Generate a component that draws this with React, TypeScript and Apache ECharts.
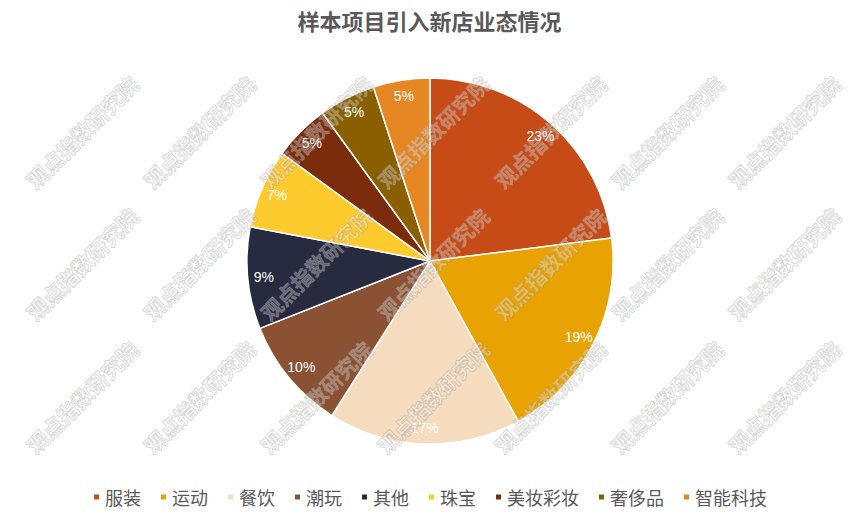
import React, { useEffect, useRef } from "react";
import * as echarts from "echarts";

const titleText = "样本项目引入新店业态情况";
const categories = ["服装", "运动", "餐饮", "潮玩", "其他", "珠宝", "美妆彩妆", "奢侈品", "智能科技"];
const values = [23, 19, 17, 10, 9, 7, 5, 5, 5];
const colors = ["#C74B16", "#E8A202", "#F6DCBF", "#8A5232", "#282A3F", "#FECB2F", "#7A2C0D", "#8A5F00", "#E58824"];
const watermarkText = "观点指数研究院";
const watermarkCols = [82, 199, 316, 433, 550, 667, 784];
const watermarkRows = [132, 264, 397];

export default function App() {
  const ref = useRef<HTMLDivElement>(null);
  useEffect(() => {
    if (!ref.current) return;
    const chart = echarts.init(ref.current, undefined, { renderer: "svg" });
    const data = categories.map((name, i) => ({ name, value: values[i], itemStyle: { color: colors[i] } }));
    const labelData = categories.map((name, i) => ({ name, value: values[i] }));
    const graphics: any[] = [];
    watermarkRows.forEach((y) => {
      watermarkCols.forEach((x) => {
        graphics.push({
          type: "text",
          x,
          y,
          rotation: Math.PI / 4,
          z: 100,
          silent: true,
          style: {
            text: watermarkText,
            fill: "rgba(255,255,255,0.3)",
            stroke: "rgba(140,140,140,0.4)",
            lineWidth: 1,
            font: "bold 21px 'Noto Sans CJK SC'",
            textAlign: "center",
            textVerticalAlign: "middle",
            align: "center",
            verticalAlign: "middle",
          },
        });
      });
    });
    chart.setOption({
      animation: false,
      backgroundColor: "#ffffff",
      title: {
        text: titleText,
        left: "center",
        top: 4,
        textStyle: {
          fontFamily: "'Noto Sans CJK SC'",
          fontSize: 22,
          fontWeight: "bold",
          color: "#595959",
        },
      },
      legend: {
        data: categories,
        bottom: 5,
        left: "center",
        icon: "rect",
        itemWidth: 7,
        itemHeight: 7,
        itemGap: 18,
        textStyle: {
          fontFamily: "'Noto Sans CJK SC'",
          fontSize: 18,
          color: "#595959",
        },
      },
      series: [
        {
          type: "pie",
          center: [430, 261],
          radius: [0, 183],
          startAngle: 90,
          clockwise: true,
          data,
          label: { show: false },
          labelLine: { show: false },
          itemStyle: { borderColor: "#ffffff", borderWidth: 1.5 },
        },
        {
          type: "pie",
          center: [430, 261],
          radius: [145, 183],
          startAngle: 90,
          clockwise: true,
          silent: true,
          data: labelData,
          itemStyle: { color: "rgba(0,0,0,0)", borderWidth: 0 },
          label: {
            show: true,
            position: "inside",
            formatter: (p: any) => p.value + "%",
            color: "#ffffff",
            fontSize: 14,
            fontFamily: "'Liberation Sans', Arial",
          },
          labelLine: { show: false },
        },
      ],
      graphic: graphics,
    });
    return () => chart.dispose();
  }, []);
  return <div ref={ref} style={{ position: "fixed", left: 0, top: 0, width: 859, height: 516 }} />;
}
